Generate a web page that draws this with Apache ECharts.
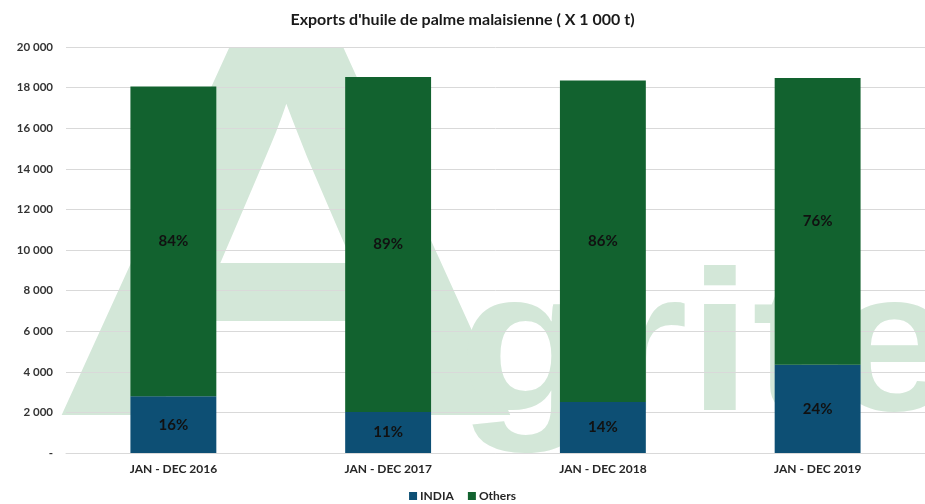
<!DOCTYPE html>
<html>
<head>
<meta charset="utf-8">
<script src="https://cdn.jsdelivr.net/npm/echarts@6/dist/echarts.min.js"></script>
<style>
html,body{margin:0;padding:0;background:#fff;}
#main{width:925px;height:504px;}
</style>
</head>
<body>
<div id="main"></div>
<script>
const categories = ['JAN - DEC 2016', 'JAN - DEC 2017', 'JAN - DEC 2018', 'JAN - DEC 2019'];
const indiaValues = [2790, 2020, 2510, 4350];
const othersValues = [15270, 16500, 15840, 14120];
const indiaPct = ['16%', '11%', '14%', '24%'];
const othersPct = ['84%', '89%', '86%', '76%'];
const yTicks = [0, 2000, 4000, 6000, 8000, 10000, 12000, 14000, 16000, 18000, 20000];

const FONT = 'Lato';
const chart = echarts.init(document.getElementById('main'), null, {renderer: 'canvas'});

function fmt(v) {
  if (v === 0) return '-';
  return String(v).replace(/\B(?=(\d{3})+(?!\d))/g, ' ');
}

chart.setOption({
  animation: false,
  title: {
    text: "Exports d'huile de palme malaisienne ( X 1 000 t)",
    left: 'center',
    top: 7,
    textStyle: {fontFamily: FONT, fontSize: 16, fontWeight: 'bold', color: '#1a1a1a'}
  },
  graphic: {
    elements: [
      {type: 'text', left: 45, top: 0, z: 0, silent: true, scaleX: 1.25,
       style: {text: 'A', font: 'bold 535px "Liberation Sans"', fill: '#d3e7d8'}},
      {type: 'text', left: 458, top: 255, z: 0, silent: true, scaleX: 1.15,
       style: {text: 'gritel', font: 'bold 200px "Liberation Sans"', fill: '#d3e7d8'}}
    ]
  },
  legend: {
    top: 485,
    left: 'center',
    itemWidth: 8,
    itemHeight: 8,
    itemGap: 14,
    icon: 'rect',
    textStyle: {fontFamily: FONT, fontSize: 12, fontWeight: 'bold', color: '#262626', padding: [0, 0, 0, -2]},
    data: ['INDIA', 'Others']
  },
  grid: {left: 66, right: -6, top: 47, bottom: 51},
  xAxis: {
    type: 'category',
    z: 1,
    data: categories,
    axisLine: {lineStyle: {color: '#d9d9d9'}},
    axisTick: {show: false},
    axisLabel: {fontFamily: FONT, fontSize: 12, fontWeight: 'bold', color: '#262626', margin: 10}
  },
  yAxis: {
    type: 'value',
    z: 1,
    min: 0,
    max: 20000,
    interval: 2000,
    axisLine: {show: false},
    axisTick: {show: false},
    splitLine: {lineStyle: {color: '#d9d9d9', width: 1}},
    axisLabel: {
      fontFamily: FONT, fontSize: 11.5, fontWeight: 'bold', color: '#333333', margin: 13,
      formatter: function (v) { return yTicks.indexOf(v) >= 0 ? fmt(v) : ''; }
    }
  },
  series: [
    {
      name: 'INDIA', type: 'bar', stack: 'total', barWidth: '40%', z: 3,
      itemStyle: {color: '#0d4f74'},
      data: indiaValues,
      label: {show: true, position: 'inside', fontFamily: FONT, fontSize: 15, fontWeight: 'bold', color: '#111111',
        formatter: function (p) { return indiaPct[p.dataIndex]; }}
    },
    {
      name: 'Others', type: 'bar', stack: 'total', barWidth: '40%', z: 3,
      itemStyle: {color: '#12622f'},
      data: othersValues,
      label: {show: true, position: 'inside', fontFamily: FONT, fontSize: 15, fontWeight: 'bold', color: '#111111',
        formatter: function (p) { return othersPct[p.dataIndex]; }}
    }
  ]
});
</script>
</body>
</html>
